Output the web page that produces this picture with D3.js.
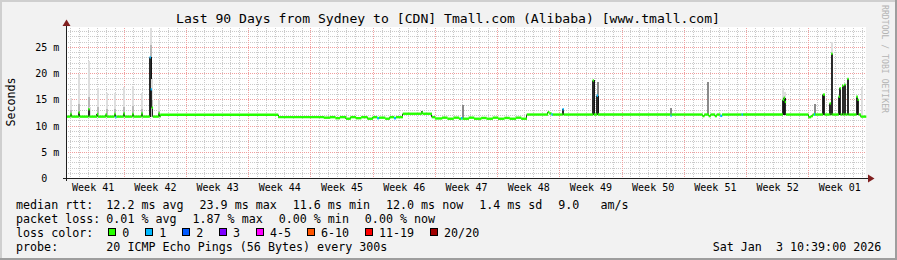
<!DOCTYPE html>
<html><head><meta charset="utf-8">
<script src="https://cdn.jsdelivr.net/npm/d3@7/dist/d3.min.js"></script>
<style>
html,body{margin:0;padding:0;background:#f2f2f2;}
svg{display:block;}
text{font-family:"DejaVu Sans Mono",monospace;white-space:pre;}
</style></head><body>
<svg id="c" width="897" height="260"></svg>
<script>
// ---------- data ----------
const titleText = "Last 90 Days from Sydney to [CDN] Tmall.com (Alibaba) [www.tmall.com]";
const startTime = "2025-10-05T10:39:00Z";
const endTime   = "2026-01-03T10:39:00Z";
const yMax = 28.8;                       // ms
const yTicks = [0, 5, 10, 15, 20, 25];   // ms
const yUnit = "m";
const yTitle = "Seconds";
const weekLabels = ["Week 41","Week 42","Week 43","Week 44","Week 45","Week 46","Week 47",
                    "Week 48","Week 49","Week 50","Week 51","Week 52","Week 01"];

// median rtt: [day offset from start, ms, loss count index]
const median = [
  [0,11.8,0],[0.48,12.3,0],[0.6,11.8,0],[1.41,12.6,0],[1.53,11.8,0],[2.5,13.2,0],[2.62,11.8,0],
  [3.47,12.3,0],[3.59,11.8,0],[4.45,12.2,0],[4.57,11.8,0],[5.43,12.3,0],[5.55,11.7,1],[5.67,11.8,0],
  [6.47,12.4,0],[6.59,11.8,0],[7.45,12.3,0],[7.57,11.8,0],[8.47,12.4,0],[8.59,11.8,0],
  [9.40,23.1,1],[9.52,17.0,1],[9.64,13.5,0],[9.76,11.8,0],[10.41,12.4,0],[10.53,11.8,0],
  [10.6,12.15,0],[23.85,11.7,0],
  [29.0,11.6,0],[29.7,11.7,0],[30.3,11.5,0],[30.8,11.7,0],[31.5,11.4,0],[32.0,11.7,0],[32.6,11.5,0],
  [33.2,11.7,0],[33.9,11.4,0],[34.5,11.7,0],[35.0,11.5,1],[35.2,11.6,0],[35.9,11.4,0],[36.4,11.7,0],
  [36.9,11.5,1],[37.1,11.7,0],
  [37.88,12.35,0],[40.0,12.6,0],[40.12,12.35,0],
  [41.14,11.7,0],[41.5,11.45,0],[42.3,11.6,0],[42.9,11.4,0],[43.6,11.6,0],[44.2,11.4,0],[44.45,11.5,1],
  [44.6,11.4,0],[45.3,11.6,0],[45.9,11.4,0],[46.7,11.55,0],[47.3,11.4,0],[48.0,11.6,0],[48.6,11.4,0],
  [49.3,11.55,0],[49.9,11.4,0],[50.6,11.6,0],[51.2,11.4,0],
  [51.83,12.2,0],[54.2,12.65,0],[54.35,12.4,0],[54.6,12.2,1],[54.75,12.2,0],
  [55.85,13.2,1],[55.97,12.2,0],
  [59.25,18.7,0],[59.37,12.2,0],[59.7,15.8,1],[59.82,12.2,0],
  [68.0,12.0,1],[68.12,12.2,0],
  [71.6,11.9,0],[71.8,12.2,0],[72.3,11.9,0],[72.5,12.2,0],[73.0,11.9,0],[73.2,12.2,0],[73.6,11.95,1],[73.8,12.2,0],
  [76.0,12.2,1],[76.15,12.2,0],
  [80.62,15.0,0],[80.74,15.4,0],[80.86,14.6,0],[80.98,12.2,0],
  [83.5,11.7,0],[83.8,11.9,0],[84.0,12.2,0],[84.15,12.2,1],[84.27,12.2,0],
  [85.15,16.0,0],[85.35,12.2,0],[85.9,14.3,0],[86.02,12.2,0],[86.08,23.8,0],[86.2,12.2,0],
  [86.9,15.6,0],[87.02,17.2,0],[87.14,12.2,0],[87.3,17.7,0],[87.42,12.2,0],[87.55,17.9,0],[87.67,12.2,0],
  [87.9,19.0,0],[88.02,12.2,0],[88.9,15.6,0],[89.05,15.0,0],[89.17,12.2,0],[89.4,11.8,0]
];

// smoke (ping spread): [day offset, low ms, high ms, shade index]
const smoke = [
  [0.53,11.8,15.3,0],[0.53,11.8,13.0,1],
  [1.46,11.8,20.0,0],[1.46,11.8,14.2,1],[1.46,11.8,12.6,2],
  [2.55,11.8,22.5,0],[2.55,11.8,15.5,1],[2.55,11.8,13.0,3],[2.67,11.8,13.6,0],
  [3.52,11.8,17.2,0],[3.52,11.8,13.6,1],
  [4.50,11.8,16.4,0],[4.50,11.8,13.3,1],
  [5.48,11.8,16.4,0],[5.48,11.8,13.3,1],
  [6.52,11.8,17.4,0],[6.52,11.8,13.6,1],
  [7.50,11.8,17.7,0],[7.50,11.8,13.8,1],
  [8.52,11.8,16.4,0],[8.52,11.8,13.3,1],
  [9.45,11.8,28.8,0],[9.45,11.8,25.5,1],[9.45,11.8,23.1,4],[9.62,11.8,19.0,0],[9.62,11.8,15.0,1],
  [10.46,11.8,14.9,0],[10.46,11.8,12.9,1],
  [40.02,12.3,12.9,3],
  [44.58,11.5,14.1,2],
  [55.88,12.2,13.2,4],
  [59.29,12.2,18.7,4],
  [59.74,12.2,18.5,2],[59.74,12.2,15.8,4],
  [68.03,12.2,13.4,2],
  [72.19,12.2,18.5,2],
  [80.6,12.2,17.2,0],[80.86,12.2,16.5,0],[80.62,12.2,14.8,4],[80.86,12.2,15.4,4],
  [84.2,12.2,14.3,2],
  [85.15,12.2,16.0,4],[85.27,12.2,16.0,4],
  [85.9,12.2,14.3,4],
  [86.08,12.2,26.0,0],[86.08,12.2,23.8,4],
  [86.9,12.2,15.6,4],[87.02,12.2,17.2,4],[87.3,12.2,17.7,4],[87.55,12.2,17.9,4],[87.9,12.2,19.0,4],
  [88.9,12.2,15.6,4],[89.05,12.2,15.0,4],
  [89.44,11.8,17.4,0]
];

const lossLabels = ["0","1","2","3","4-5","6-10","11-19","20/20"];
const lossColors = ["#26ff00","#00b8ff","#0059ff","#7e00ff","#ff00ff","#ff5500","#ff0000","#a00000"];
const smokeShades = ["#dedede","#b8b8b8","#8a8a8a","#484848","#141414"];
const rttLabel = "median rtt:";
const rttStats = ["12.2 ms avg","23.9 ms max","11.6 ms min","12.0 ms now","1.4 ms sd","9.0   am/s"];
const lossLabel = "packet loss:";
const lossStats = ["0.01 % avg","1.87 % max","0.00 % min","0.00 % now"];
const colorLabel = "loss color:";
const probeLabel = "probe:";
const probeText = "20 ICMP Echo Pings (56 Bytes) every 300s";
const dateText = "Sat Jan  3 10:39:00 2026";
const watermark = "RRDTOOL / TOBI OETIKER";

// ---------- drawing ----------
const W = 897, H = 260;
const svg = d3.select("#c");
const start = new Date(startTime), end = new Date(endTime);
const toDate = d => new Date(start.getTime() + d * 864e5);
const x = d3.scaleUtc().domain([start, end]).range([66, 866]);
const y = d3.scaleLinear().domain([0, yMax]).range([178.5, 27.5]);
const px = v => Math.floor(v) + 0.5;

// dotted patterns (pixel exact)
const defs = svg.append("defs");
function dotPattern(id, w, h, color) {
  const p = defs.append("pattern").attr("id", id).attr("patternUnits", "userSpaceOnUse")
    .attr("x", 0).attr("y", 0).attr("width", w).attr("height", h);
  p.append("rect").attr("width", 1).attr("height", 1).attr("fill", color);
}
dotPattern("minV", 1, 2, "#cacaca");
dotPattern("minH", 2, 1, "#cacaca");
dotPattern("majV", 1, 2, "#f19e9e");
dotPattern("majH", 2, 1, "#f19e9e");

// background + frame
svg.append("rect").attr("width", W).attr("height", H).attr("fill", "#f2f2f2");
svg.append("rect").attr("x", 0).attr("y", 0).attr("width", W).attr("height", 2).attr("fill", "#cfcfcf");
svg.append("rect").attr("x", 0).attr("y", 0).attr("width", 2).attr("height", H).attr("fill", "#cfcfcf");
svg.append("rect").attr("x", 0).attr("y", H - 2).attr("width", W).attr("height", 2).attr("fill", "#9e9e9e");
svg.append("rect").attr("x", W - 2).attr("y", 0).attr("width", 2).attr("height", H).attr("fill", "#9e9e9e");

// canvas
svg.append("rect").attr("x", 66).attr("y", 27).attr("width", 800).attr("height", 151).attr("fill", "#ffffff");

// grid
const days = d3.utcDay.range(d3.utcDay.ceil(start), end).filter(d => d.getUTCDay() !== 0);
const weeks = d3.utcSunday.range(d3.utcSunday.ceil(start), end);
const minorY = d3.range(1, Math.floor(yMax) + 1).filter(v => v % 5 !== 0);
const majorY = yTicks.filter(v => v > 0);
const grid = svg.append("g").attr("shape-rendering", "crispEdges");
grid.selectAll(".gvmin").data(days).join("rect").attr("class", "gvmin")
  .attr("x", d => Math.floor(x(d))).attr("y", 27).attr("width", 1).attr("height", 151).attr("fill", "url(#minV)");
grid.selectAll(".ghmin").data(minorY).join("rect").attr("class", "ghmin")
  .attr("x", 66).attr("y", v => Math.floor(y(v))).attr("width", 800).attr("height", 1).attr("fill", "url(#minH)");
grid.selectAll(".gvmaj").data(weeks).join("rect").attr("class", "gvmaj")
  .attr("x", d => Math.floor(x(d))).attr("y", 27).attr("width", 1).attr("height", 151).attr("fill", "url(#majV)");
grid.selectAll(".ghmaj").data(majorY).join("rect").attr("class", "ghmaj")
  .attr("x", 66).attr("y", v => Math.floor(y(v))).attr("width", 800).attr("height", 1).attr("fill", "url(#majH)");

// smoke
const plot = svg.append("g").attr("shape-rendering", "crispEdges");
plot.selectAll("rect").data(smoke).join("rect")
  .attr("x", d => Math.floor(x(toDate(d[0]))))
  .attr("width", 2)
  .attr("y", d => y(d[2]))
  .attr("height", d => y(d[1]) - y(d[2]))
  .attr("fill", d => smokeShades[d[3]]);

// median: connectors then horizontal segments
const segs = median.map((m, i) => ({
  x1: x(toDate(m[0])),
  x2: i < median.length - 1 ? x(toDate(median[i + 1][0])) : x(end),
  v: m[1], loss: m[2],
  next: i < median.length - 1 ? median[i + 1][1] : null
}));
svg.append("g").selectAll("line").data(segs.filter(s => s.next !== null && Math.abs(s.next - s.v) > 0.25)).join("line")
  .attr("x1", d => px(d.x2)).attr("x2", d => px(d.x2))
  .attr("y1", d => y(d.v)).attr("y2", d => y(d.next))
  .attr("stroke", "#2a2a2a").attr("stroke-width", 1);
svg.append("g").selectAll("line").data(segs).join("line")
  .attr("x1", d => d.x1).attr("x2", d => d.x2 + 0.3)
  .attr("y1", d => y(d.v)).attr("y2", d => y(d.v))
  .attr("stroke", d => lossColors[d.loss]).attr("stroke-width", 2.4);

// axes
const ax = svg.append("g").attr("shape-rendering", "crispEdges");
ax.append("line").attr("x1", 63).attr("x2", 869).attr("y1", 178.5).attr("y2", 178.5).attr("stroke", "#1f1f1f");
ax.append("line").attr("x1", 66.5).attr("x2", 66.5).attr("y1", 181).attr("y2", 24).attr("stroke", "#1f1f1f");
svg.append("path").attr("d", "M868,174.5L868,182.5L874.5,178.5Z").attr("fill", "#801f1f");
svg.append("path").attr("d", "M62.5,26L70.5,26L66.5,19.5Z").attr("fill", "#801f1f");

// y tick labels
const yl = svg.append("g").attr("font-size", "10px").attr("fill", "#000");
yl.selectAll(".yn").data(yTicks).join("text").attr("class", "yn")
  .attr("x", 47.2).attr("y", d => y(d) + 3.6).attr("text-anchor", "end").text(d => d3.format("d")(d));
yl.selectAll(".yu").data(majorY).join("text").attr("class", "yu")
  .attr("x", 53.2).attr("y", d => y(d) + 3.6).text(yUnit);

// week labels
const weekStarts = d3.utcSunday.range(d3.utcSunday.floor(start), end);
svg.append("g").attr("font-size", "10px").selectAll("text")
  .data(weekStarts.map((w, i) => ({ w, label: weekLabels[i] })).filter(d => d.label))
  .join("text")
  .attr("x", d => x(new Date(d.w.getTime() + 3.5 * 864e5)))
  .attr("y", 190.5).attr("text-anchor", "middle").text(d => d.label);

// title
svg.append("text").attr("x", 448).attr("y", 23).attr("text-anchor", "middle")
  .attr("font-size", "13.1px").text(titleText);

// y title
svg.append("text").attr("transform", "translate(15,102) rotate(-90)")
  .attr("text-anchor", "middle").attr("font-size", "11.68px").text(yTitle);

// watermark
svg.append("text").attr("transform", "translate(882,5) rotate(90)")
  .attr("font-size", "8.6px").attr("fill", "#b4b4b4")
  .attr("textLength", 108).attr("lengthAdjust", "spacingAndGlyphs").text(watermark);

// legend
const lg = svg.append("g").attr("font-size", "11.68px").attr("fill", "#000");
const rows = [208.5, 222.5, 236.5, 250.5];
const gap = 15.9, valX = 106.3;
function rowItems(yy, label, items) {
  lg.append("text").attr("x", 16).attr("y", yy).text(label);
  let cx = valX;
  items.forEach(t => {
    const el = lg.append("text").attr("x", cx).attr("y", yy).text(t);
    cx += el.node().getComputedTextLength() + gap;
  });
}
rowItems(rows[0], rttLabel, rttStats);
rowItems(rows[1], lossLabel, lossStats);
lg.append("text").attr("x", 16).attr("y", rows[2]).text(colorLabel);
let sx = 108.3;
lossLabels.forEach((l, i) => {
  lg.append("rect").attr("x", Math.floor(sx) + 0.5).attr("y", 228.5).attr("width", 7).attr("height", 7)
    .attr("fill", lossColors[i]).attr("stroke", "#000").attr("shape-rendering", "crispEdges");
  const el = lg.append("text").attr("x", sx + 14).attr("y", rows[2]).text(l);
  sx = sx + 14 + el.node().getComputedTextLength() + gap;
});
lg.append("text").attr("x", 16).attr("y", rows[3]).text(probeLabel);
lg.append("text").attr("x", valX).attr("y", rows[3]).text(probeText);
lg.append("text").attr("x", 712.7).attr("y", rows[3]).text(dateText);
</script>
</body></html>
